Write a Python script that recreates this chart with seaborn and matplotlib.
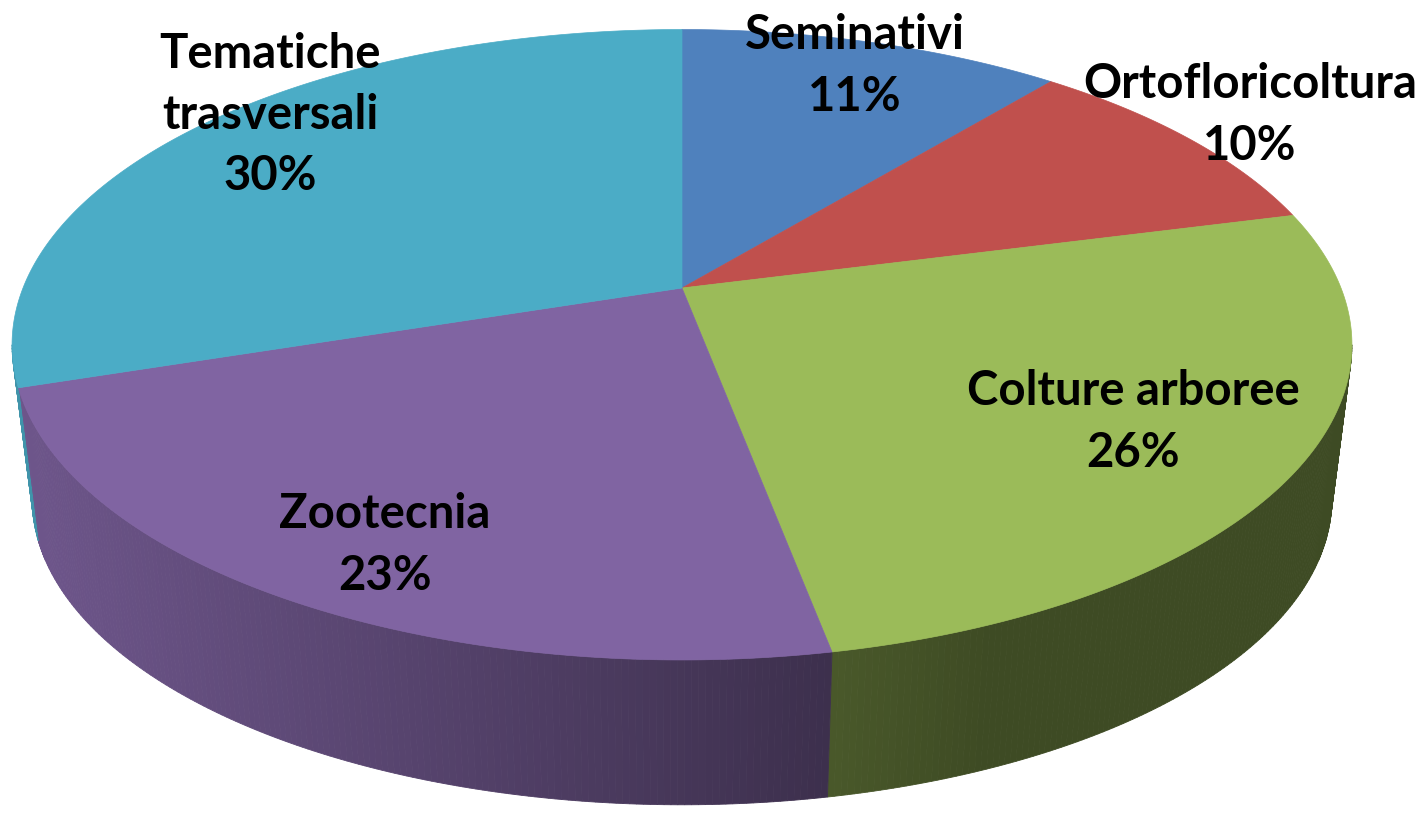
import numpy as np
import matplotlib
matplotlib.use("Agg")
import matplotlib.pyplot as plt
from matplotlib.patches import Polygon
import seaborn as sns

# dati del grafico
categories = ["Seminativi", "Ortofloricoltura", "Colture arboree", "Zootecnia", "Tematiche trasversali"]
shares = [11, 10, 26, 23, 30]
slice_colors = ["#4F81BD", "#C0504D", "#9BBB59", "#8064A2", "#4BACC6"]

# posizione delle etichette (pixel)
label_xy = [(855, 66), (1250, 115), (1133, 422), (385, 545), (270, 115)]

W, H = 1427, 814
CX, CY = 682, 288          # centro della torta (faccia superiore)
SX, SY, K = 659, 305, 0.18  # semiassi e prospettiva
BOT_SCALE, BOT_CY = 0.97, 444


def proj(s_deg, r=1.0, bottom=False):
    # s = gradi in senso orario dalle ore 12
    theta = np.radians(90 - np.asarray(s_deg))
    x = r * np.cos(theta)
    y = r * np.sin(theta)
    w = 1 + K * y
    X = SX * x / w
    Y = SY * y / w
    if bottom:
        return CX + BOT_SCALE * X, BOT_CY - BOT_SCALE * Y
    return CX + X, CY - Y


def shade(X):
    return float(np.clip(0.545 - 0.00047 * X, 0.40, 0.9))


sns.set_theme(style="white")
plt.rcParams["font.family"] = ["Lato", "DejaVu Sans"]
palette = sns.color_palette(slice_colors)

fig = plt.figure(figsize=(W / 100, H / 100), dpi=100)
ax = fig.add_axes([0, 0, 1, 1])
ax.set_xlim(0, W)
ax.set_ylim(H, 0)
ax.axis("off")

bounds = np.concatenate([[0], np.cumsum(shares)]) * 360 / sum(shares)

# lato visibile (fianco) del cilindro
s_lo = 90 + np.degrees(np.arcsin(K))
s_hi = 270 - np.degrees(np.arcsin(K))
for i, col in enumerate(palette):
    a, b = max(bounds[i], s_lo), min(bounds[i + 1], s_hi)
    if a >= b:
        continue
    steps = np.linspace(a, b, max(int((b - a) * 2), 2))
    for s0, s1 in zip(steps[:-1], steps[1:]):
        tx, ty = proj([s0, s1])
        bx, by = proj([s1, s0], bottom=True)
        f = shade((tx.mean() - CX))
        c = tuple(np.array(col) * f)
        poly = Polygon(np.column_stack([np.r_[tx, bx], np.r_[ty, by]]),
                       closed=True, facecolor=c, edgecolor=c, linewidth=0.6)
        ax.add_patch(poly)

# faccia superiore
for i, col in enumerate(palette):
    arc = np.linspace(bounds[i], bounds[i + 1], 200)
    ax_, ay_ = proj(arc)
    pts = np.column_stack([np.r_[CX, ax_], np.r_[CY, ay_]])
    ax.add_patch(Polygon(pts, closed=True, facecolor=col, edgecolor=col, linewidth=0.5))

# etichette
for cat, val, (lx, ly) in zip(categories, shares, label_xy):
    name = cat.replace(" ", "\n") if len(cat) > 16 else cat
    ax.text(lx, ly, f"{name}\n{val}%", ha="center", va="center",
            fontsize=34, fontweight="bold", color="black", linespacing=1.48)

fig.savefig("out.png", dpi=100)
